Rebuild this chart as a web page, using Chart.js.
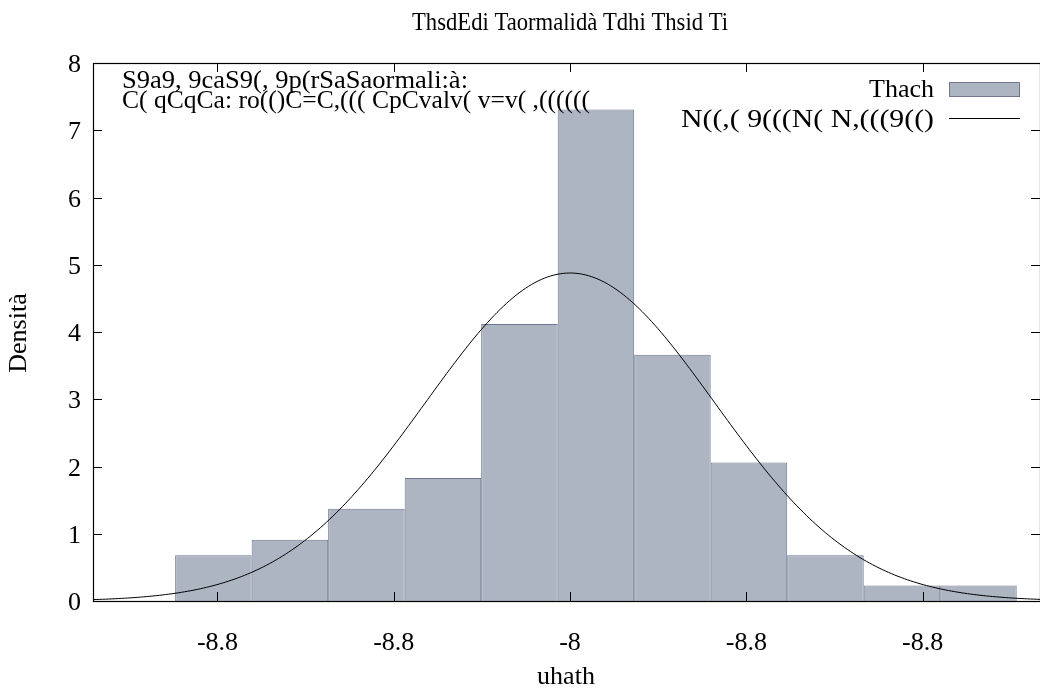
<!DOCTYPE html>
<html>
<head>
<meta charset="utf-8">
<script src="https://cdn.jsdelivr.net/npm/chart.js@4.4.1/dist/chart.umd.min.js"></script>
<style>
  html, body { margin: 0; padding: 0; background: #fff; }
  #wrap { width: 1040px; height: 688px; position: relative; }
</style>
</head>
<body>
<div id="wrap"><canvas id="histChart"></canvas></div>
<script>
// histogram bins (centres) and density heights
const binCenters = [-0.2023, -0.1589, -0.1155, -0.0721, -0.0287, 0.0147, 0.0581, 0.1015, 0.1449, 0.1883, 0.2317];
const densities = [0.68, 0.91, 1.37, 1.83, 4.12, 7.31, 3.66, 2.06, 0.68, 0.23, 0.23];

// normal curve parameters
const normMean = 0.0;
const normSd = 0.0818;

// axis ticks
const xTickValues = [-0.2, -0.1, 0, 0.1, 0.2];
const xTickLabels = ["-8.8", "-8.8", "-8", "-8.8", "-8.8"];
const yTickValues = [0, 1, 2, 3, 4, 5, 6, 7, 8];
const xMin = -0.2706;
const xMax = 0.2666;

// texts
const titleText = "ThsdEdi Taormalidà Tdhi Thsid Ti";
const noteLines = ["S9a9, 9caS9(, 9p(rSaSaormali:à:", "C( qCqCa: ro(()C=C,((( CpCvalv( v=v( ,(((((("];
const legendLabels = ["Thach", "N((,( 9(((N( N,(((9(()"];
const xTitle = "uhath";
const yTitle = "Densità";

const BAR_FILL = "#adb4c2";
const BAR_EDGE = "#6f7890";
const FONT = '"Liberation Serif", "DejaVu Serif", serif';

const curvePts = [];
for (let i = 0; i <= 300; i++) {
  const x = xMin + (xMax - xMin) * i / 300;
  const z = (x - normMean) / normSd;
  curvePts.push({ x: x, y: Math.exp(-0.5 * z * z) / (normSd * Math.sqrt(2 * Math.PI)) });
}

// text squeezed horizontally to a given width
function fitText(ctx, text, x, y, align, width) {
  ctx.save();
  ctx.textAlign = align;
  const w = ctx.measureText(text).width;
  const sx = width ? width / w : 1;
  ctx.translate(x, y);
  ctx.scale(sx, 1);
  ctx.fillText(text, 0, 0);
  ctx.restore();
}

const decorPlugin = {
  id: "decor",
  afterDraw(chart) {
    const ctx = chart.ctx;
    const a = chart.chartArea;
    const xs = chart.scales.x;
    const ys = chart.scales.y;
    ctx.save();
    ctx.strokeStyle = "#000";
    ctx.fillStyle = "#000";
    ctx.lineWidth = 1.2;

    // frame
    ctx.strokeRect(a.left + 0.5, a.top + 0.5, a.right - a.left, a.bottom - a.top);

    // inward ticks on all four sides
    ctx.lineWidth = 1;
    ctx.beginPath();
    xTickValues.forEach(v => {
      const px = Math.round(xs.getPixelForValue(v)) + 0.5;
      ctx.moveTo(px, a.bottom); ctx.lineTo(px, a.bottom - 9);
      ctx.moveTo(px, a.top); ctx.lineTo(px, a.top + 9);
    });
    yTickValues.forEach(v => {
      const py = Math.round(ys.getPixelForValue(v)) + 0.5;
      ctx.moveTo(a.left, py); ctx.lineTo(a.left + 9, py);
      ctx.moveTo(a.right, py); ctx.lineTo(a.right - 9, py);
    });
    ctx.stroke();

    ctx.font = "26px " + FONT;
    ctx.textBaseline = "alphabetic";

    // tick labels
    yTickValues.forEach(v => {
      fitText(ctx, String(v), 81, ys.getPixelForValue(v) + 9, "right");
    });
    xTickValues.forEach((v, i) => {
      fitText(ctx, xTickLabels[i], xs.getPixelForValue(v), 650, "center");
    });

    // axis titles
    fitText(ctx, xTitle, 566, 684, "center");
    ctx.save();
    ctx.translate(26, 333);
    ctx.rotate(-Math.PI / 2);
    fitText(ctx, yTitle, 0, 0, "center");
    ctx.restore();

    // title
    fitText(ctx, titleText, 570, 30, "center", 316);

    // notes in the upper left corner
    fitText(ctx, noteLines[0], 122, 88, "left", 346);
    fitText(ctx, noteLines[1], 122, 108, "left", 468);

    // legend
    fitText(ctx, legendLabels[0], 934, 97, "right");
    fitText(ctx, legendLabels[1], 934, 127, "right", 253);
    ctx.fillStyle = BAR_FILL;
    ctx.fillRect(949, 82, 71, 14);
    ctx.strokeStyle = BAR_EDGE;
    ctx.strokeRect(949.5, 82.5, 70, 14);
    ctx.strokeStyle = "#000";
    ctx.beginPath();
    ctx.moveTo(949, 118.5);
    ctx.lineTo(1020, 118.5);
    ctx.stroke();

    ctx.restore();
  }
};

const ctx = document.getElementById("histChart").getContext("2d");
new Chart(ctx, {
  type: "bar",
  data: {
    datasets: [
      {
        type: "line",
        data: curvePts,
        borderColor: "#000",
        borderWidth: 1,
        pointRadius: 0,
        tension: 0,
        order: 1
      },
      {
        type: "bar",
        data: binCenters.map((c, i) => ({ x: c, y: densities[i] })),
        backgroundColor: BAR_FILL,
        borderColor: BAR_EDGE,
        borderWidth: 1,
        borderSkipped: "bottom",
        inflateAmount: 0,
        barPercentage: 1,
        categoryPercentage: 1,
        grouped: false,
        order: 2
      }
    ]
  },
  options: {
    responsive: true,
    maintainAspectRatio: false,
    animation: false,
    layout: { padding: { top: 63, right: 0, left: 0, bottom: 0 } },
    plugins: {
      legend: { display: false },
      title: { display: false },
      tooltip: { enabled: false }
    },
    scales: {
      x: {
        type: "linear",
        min: xMin,
        max: xMax,
        offset: false,
        ticks: { display: false },
        grid: { display: false },
        border: { display: false },
        afterFit: s => { s.height = 87; }
      },
      y: {
        min: 0,
        max: 8,
        ticks: { display: false },
        grid: { display: false },
        border: { display: false },
        afterFit: s => { s.width = 93; }
      }
    }
  },
  plugins: [decorPlugin]
});
</script>
</body>
</html>
